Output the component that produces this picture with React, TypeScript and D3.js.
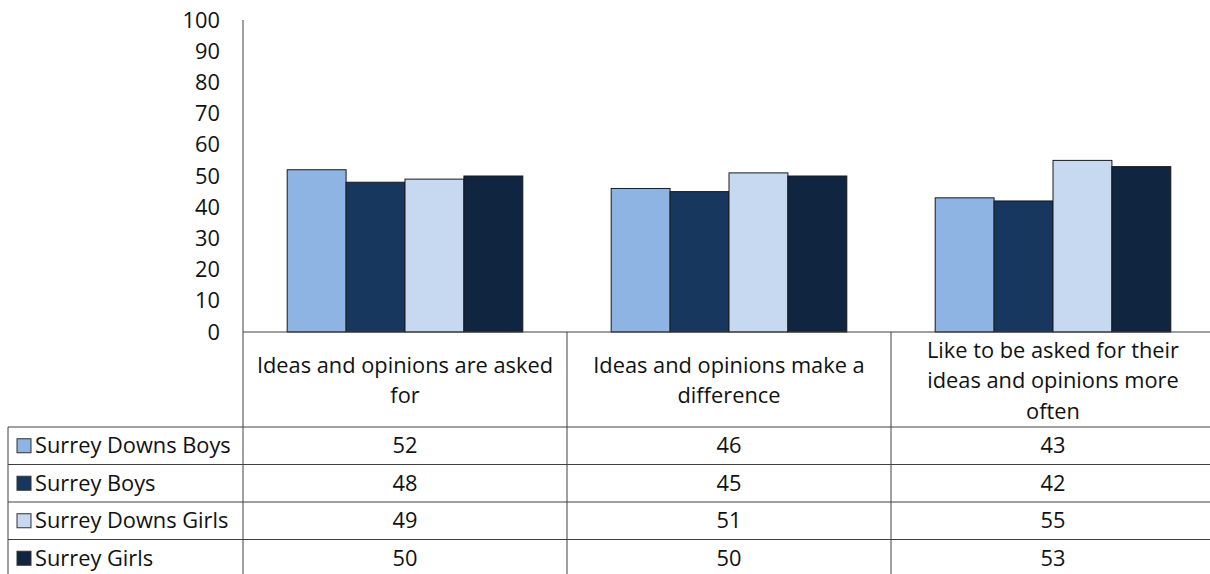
import React from "react";
import * as d3 from "d3";

const categories: string[][] = [
  ["Ideas and opinions are asked", "for"],
  ["Ideas and opinions make a", "difference"],
  ["Like to be asked for their", "ideas and opinions more", "often"],
];
const seriesNames = ["Surrey Downs Boys", "Surrey Boys", "Surrey Downs Girls", "Surrey Girls"];
const surreyDownsBoys = [52, 46, 43];
const surreyBoys = [48, 45, 42];
const surreyDownsGirls = [49, 51, 55];
const surreyGirls = [50, 50, 53];
const seriesValues = [surreyDownsBoys, surreyBoys, surreyDownsGirls, surreyGirls];
const colors = ["#8EB4E3", "#17375E", "#C6D9F1", "#10253F"];
const yTicks = [0, 10, 20, 30, 40, 50, 60, 70, 80, 90, 100];

const W = 1210;
const H = 574;
const FONT = "'Open Sans', Lato, sans-serif";
const FS = 21.8;

export default function App() {
  const axisX = 243;
  const rightX = 1215;
  const y = d3.scaleLinear().domain([0, 100]).range([332, 20]);
  const catIdx = categories.map((_, i) => String(i));
  const x0 = d3.scaleBand<string>().domain(catIdx).range([axisX, rightX]).paddingInner(0).paddingOuter(0);
  const bw = x0.bandwidth();
  const barW = bw / (4 + 1.5);
  const x1 = d3
    .scaleBand<string>()
    .domain(seriesNames)
    .range([(bw - 4 * barW) / 2, (bw + 4 * barW) / 2])
    .padding(0);

  const headerTop = y(0);
  const headerBottom = 427;
  const rowTops = [427, 464.5, 502, 539.5];
  const rowH = 37.5;
  const tableLeft = 8;
  const lineColor = "#404040";

  return (
    <svg
      width={W}
      height={H}
      style={{ position: "absolute", left: 0, top: 0, background: "#fff" }}
      fontFamily={FONT}
    >
      {/* y axis */}
      <line x1={axisX} x2={axisX} y1={y(100)} y2={H} stroke={lineColor} strokeWidth={1} />
      {yTicks.map((t) => (
        <text key={t} x={220} y={y(t)} dy="0.35em" textAnchor="end" fontSize={FS} fill="#111">
          {t}
        </text>
      ))}

      {/* bars */}
      {catIdx.map((c, ci) => (
        <g key={c} transform={`translate(${x0(c)},0)`}>
          {seriesNames.map((s, si) => {
            const v = seriesValues[si][ci];
            return (
              <rect
                key={s}
                x={x1(s)}
                y={y(v)}
                width={x1.bandwidth()}
                height={y(0) - y(v)}
                fill={colors[si]}
                stroke="#1a1a1a"
                strokeWidth={1}
              />
            );
          })}
        </g>
      ))}

      {/* x axis / header top */}
      <line x1={axisX} x2={W} y1={headerTop} y2={headerTop} stroke={lineColor} strokeWidth={1.2} />
      {/* column separators */}
      {catIdx.map((c, ci) =>
        ci > 0 ? (
          <line
            key={c}
            x1={x0(c)}
            x2={x0(c)}
            y1={headerTop}
            y2={H}
            stroke={lineColor}
            strokeWidth={1}
          />
        ) : null
      )}
      {/* category header text */}
      {categories.map((lines, ci) => {
        const cx = (x0(String(ci)) as number) + bw / 2;
        const lh = 30.5;
        const mid = (headerTop + headerBottom) / 2 + 1;
        const start = mid - ((lines.length - 1) * lh) / 2;
        return lines.map((ln, li) => (
          <text
            key={ci + "-" + li}
            x={cx}
            y={start + li * lh}
            dy="0.35em"
            textAnchor="middle"
            fontSize={FS}
            fill="#111"
          >
            {ln}
          </text>
        ));
      })}

      {/* table rows */}
      {seriesNames.map((s, si) => {
        const top = rowTops[si];
        const cy = top + rowH / 2;
        return (
          <g key={s}>
            <line x1={tableLeft} x2={W} y1={top} y2={top} stroke={lineColor} strokeWidth={1} />
            <rect
              x={17}
              y={cy - 7}
              width={14}
              height={14}
              fill={colors[si]}
              stroke="#333"
              strokeWidth={1}
            />
            <text x={35} y={cy} dy="0.35em" fontSize={FS} fill="#111">
              {s}
            </text>
            {catIdx.map((c, ci) => (
              <text
                key={c}
                x={(x0(c) as number) + bw / 2}
                y={cy}
                dy="0.35em"
                textAnchor="middle"
                fontSize={FS}
                fill="#111"
              >
                {seriesValues[si][ci]}
              </text>
            ))}
          </g>
        );
      })}
      {/* table left border */}
      <line x1={tableLeft} x2={tableLeft} y1={headerBottom} y2={H} stroke={lineColor} strokeWidth={1} />
    </svg>
  );
}
